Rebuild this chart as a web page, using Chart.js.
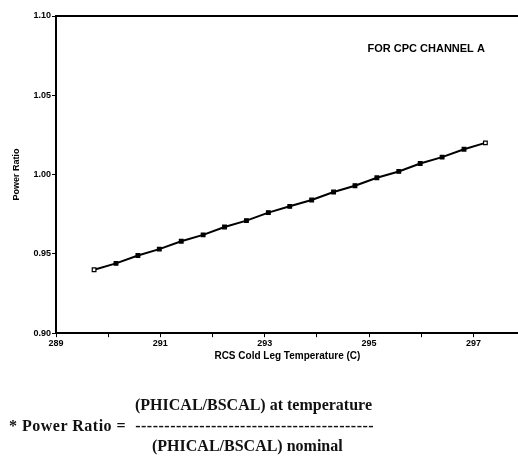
<!DOCTYPE html>
<html>
<head>
<meta charset="utf-8">
<script src="https://cdn.jsdelivr.net/npm/chart.js@4.4.1/dist/chart.umd.min.js"></script>
<style>
  body { margin: 0; background: #fff; }
  #wrap { position: relative; width: 518px; height: 457px; overflow: hidden; }
  .note {
    position: absolute;
    font-family: "Liberation Serif", "Times New Roman", serif;
    font-size: 16px;
    font-weight: bold;
    color: #111;
    white-space: pre;
    line-height: 1;
  }
</style>
</head>
<body>
<div id="wrap">
  <canvas id="ratioChart" width="524" height="457"></canvas>
  <div class="note" style="left:135px; top:397px;">(PHICAL/BSCAL) at temperature</div>
  <div class="note" style="left:9px; top:418px; letter-spacing:0.5px;">* Power Ratio =  -----------------------------------------</div>
  <div class="note" style="left:152px; top:438px;">(PHICAL/BSCAL) nominal</div>
</div>
<script>
// data
const temperatures = [289.73, 290.15, 290.57, 290.98, 291.40, 291.82, 292.23, 292.65, 293.07, 293.48,
                      293.90, 294.32, 294.73, 295.15, 295.57, 295.98, 296.40, 296.82, 297.23];
const powerRatios = [0.940, 0.944, 0.949, 0.953, 0.958, 0.962, 0.967, 0.971, 0.976, 0.980,
                     0.984, 0.989, 0.993, 0.998, 1.002, 1.007, 1.011, 1.016, 1.020];
const xTickValues = [289, 290, 291, 292, 293, 294, 295, 296, 297];
const xTickLabels = ['289', '', '291', '', '293', '', '295', '', '297'];
const yTickValues = [0.90, 0.95, 1.00, 1.05, 1.10];
const yTickLabels = ['0.90', '0.95', '1.00', '1.05', '1.10'];
const noteText = 'FOR CPC CHANNEL A';
const notePos = { x: 294.97, y: 1.079 };

// ends are open squares, the rest filled
const pointFill = temperatures.map((t, i) => (i === 0 || i === temperatures.length - 1) ? '#fff' : '#000');

const frameAndNote = {
    id: 'frameAndNote',
    afterDraw(chart) {
        const { ctx, chartArea, scales } = chart;
        ctx.save();
        ctx.strokeStyle = '#000';
        ctx.lineWidth = 2;
        ctx.beginPath();
        ctx.moveTo(chartArea.left, chartArea.top);
        ctx.lineTo(chartArea.right, chartArea.top);
        ctx.stroke();
        ctx.fillStyle = '#000';
        ctx.font = 'bold 11px "Liberation Sans", Arial, sans-serif';
        ctx.textBaseline = 'middle';
        ctx.fillText(noteText, scales.x.getPixelForValue(notePos.x), scales.y.getPixelForValue(notePos.y));
        ctx.restore();
    }
};

const tickFont = { family: '"Liberation Sans", Arial, sans-serif', size: 9, weight: 'bold' };
const titleFont = { family: '"Liberation Sans", Arial, sans-serif', size: 10, weight: 'bold' };

new Chart(document.getElementById('ratioChart').getContext('2d'), {
    type: 'scatter',
    data: {
        datasets: [{
            data: temperatures.map((t, i) => ({ x: t, y: powerRatios[i] })),
            showLine: true,
            borderColor: '#000',
            borderWidth: 2,
            pointStyle: 'rect',
            pointRadius: 2.6,
            pointBackgroundColor: pointFill,
            pointBorderColor: '#000',
            pointBorderWidth: 1.2
        }]
    },
    options: {
        responsive: false,
        animation: false,
        layout: { padding: { top: 16, right: 0, bottom: 95, left: 0 } },
        scales: {
            x: {
                type: 'linear',
                min: 289,
                max: 297.87,
                afterBuildTicks: s => { s.ticks = xTickValues.map(v => ({ value: v })); },
                ticks: {
                    autoSkip: false,
                    maxRotation: 0,
                    padding: 1,
                    color: '#000',
                    font: tickFont,
                    callback: (v) => xTickLabels[xTickValues.indexOf(v)]
                },
                grid: { drawOnChartArea: false, tickLength: 4, color: '#000', lineWidth: 1 },
                border: { color: '#000', width: 2 },
                title: {
                    display: true,
                    text: 'RCS Cold Leg Temperature (C)',
                    color: '#000',
                    font: titleFont,
                    padding: { top: 0, bottom: 0 }
                }
            },
            y: {
                min: 0.90,
                max: 1.10,
                afterBuildTicks: s => { s.ticks = yTickValues.map(v => ({ value: v })); },
                afterFit: s => { s.width = 56; },
                ticks: {
                    padding: 1,
                    color: '#000',
                    font: tickFont,
                    callback: (v) => yTickLabels[yTickValues.findIndex(t => Math.abs(t - v) < 1e-9)]
                },
                grid: { drawOnChartArea: false, tickLength: 4, color: '#000', lineWidth: 1 },
                border: { color: '#000', width: 2 },
                title: {
                    display: true,
                    text: 'Power Ratio',
                    color: '#000',
                    font: tickFont,
                    padding: { top: 11.6, bottom: 0 }
                }
            }
        },
        plugins: {
            legend: { display: false },
            tooltip: { enabled: false }
        }
    },
    plugins: [frameAndNote]
});
</script>
</body>
</html>
